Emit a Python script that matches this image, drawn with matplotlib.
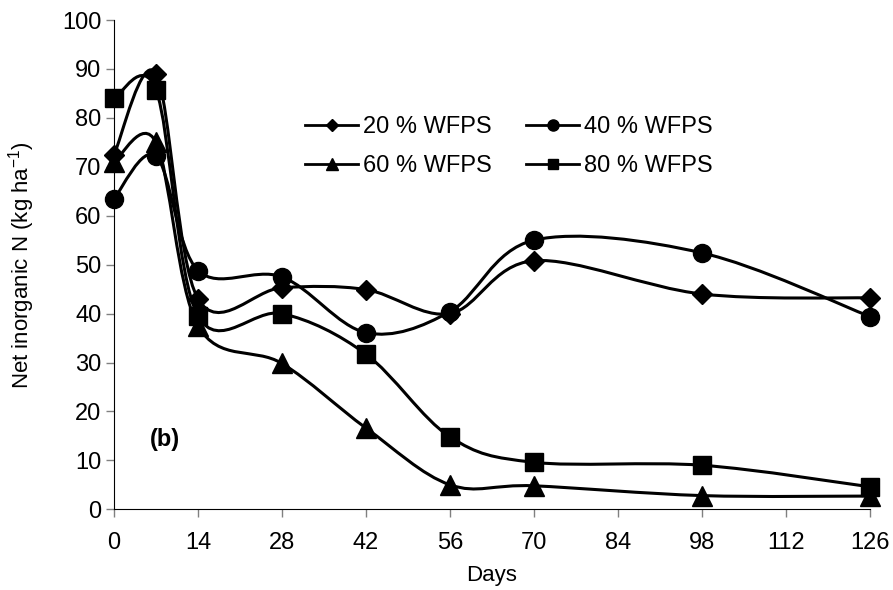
import matplotlib
matplotlib.use('Agg')
import matplotlib.pyplot as plt
from matplotlib.path import Path
from matplotlib.patches import PathPatch
from matplotlib.lines import Line2D
import numpy as np

plt.rcParams['font.family'] = ['Liberation Sans', 'DejaVu Sans']

days = [0, 7, 14, 28, 42, 56, 70, 98, 126]
wfps20 = [72.5, 89.0, 43.0, 45.3, 44.9, 40.0, 50.8, 44.0, 43.2]
wfps40 = [63.5, 72.2, 48.8, 47.5, 36.1, 40.4, 55.0, 52.4, 39.4]
wfps60 = [71.0, 75.0, 37.5, 29.8, 16.6, 5.0, 4.8, 2.8, 2.7]
wfps80 = [84.0, 85.7, 39.5, 40.0, 31.7, 14.8, 9.6, 9.0, 4.6]

labels = ['20 % WFPS', '40 % WFPS', '60 % WFPS', '80 % WFPS']
series = [wfps20, wfps40, wfps60, wfps80]
markers = ['D', 'o', '^', 's']
msizes = [10, 13, 14, 13]
lg_sizes = [6, 8, 8, 7]


# smoothed line like the spreadsheet (catmull-rom as bezier segments)
def smooth_path(x, y):
    p = np.column_stack([x, y]).astype(float)
    n = len(p)
    verts = [p[0]]
    codes = [Path.MOVETO]
    for i in range(n - 1):
        p0 = p[i - 1] if i > 0 else p[i]
        p3 = p[i + 2] if i + 2 < n else p[i + 1]
        c1 = p[i] + (p[i + 1] - p0) / 6
        c2 = p[i + 1] - (p3 - p[i]) / 6
        verts += [c1, c2, p[i + 1]]
        codes += [Path.CURVE4] * 3
    return Path(verts, codes)


fig = plt.figure(figsize=(8.93, 5.9), dpi=100)
ax = fig.add_axes([0.1277, 0.1368, 0.8465, 0.8293])

for vals, m, ms in zip(series, markers, msizes):
    ax.add_patch(PathPatch(smooth_path(days, vals), fill=False, lw=2.2,
                           ec='black', capstyle='round'))
    ax.plot(days, vals, ls='none', marker=m, ms=ms, color='black',
            clip_on=False, zorder=3)

ax.set_xlim(0, 126)
ax.set_ylim(0, 100)
ax.set_xticks(np.arange(0, 127, 14))
ax.set_yticks(np.arange(0, 101, 10))
ax.spines['top'].set_visible(False)
ax.spines['right'].set_visible(False)
ax.tick_params(axis='both', labelsize=17, length=6, color='#808080',
               width=1)
ax.tick_params(axis='x', pad=10)
ax.tick_params(axis='y', pad=3)
ax.set_xlabel('Days', fontsize=16, labelpad=8)
ax.set_ylabel('Net inorganic N (kg ha$^{\\mathregular{-1}}$)', fontsize=16,
              labelpad=18)

ax.text(8.5, 14.2, '(b)', fontsize=17, fontweight='bold', va='center',
        ha='center')

# legend fills by column, so order 20, 60, 40, 80 gives rows 20/40 and 60/80
order = [0, 2, 1, 3]
handles = [Line2D([], [], color='black', lw=2, marker=markers[i],
                  ms=lg_sizes[i]) for i in order]
ax.legend(handles, [labels[i] for i in order], ncol=2, frameon=False,
          fontsize=17, loc='center', bbox_to_anchor=(0.5225, 0.7405),
          handlelength=2.25, handletextpad=0.2, columnspacing=1.45,
          labelspacing=0.72)

fig.savefig('out.png', dpi=100)
